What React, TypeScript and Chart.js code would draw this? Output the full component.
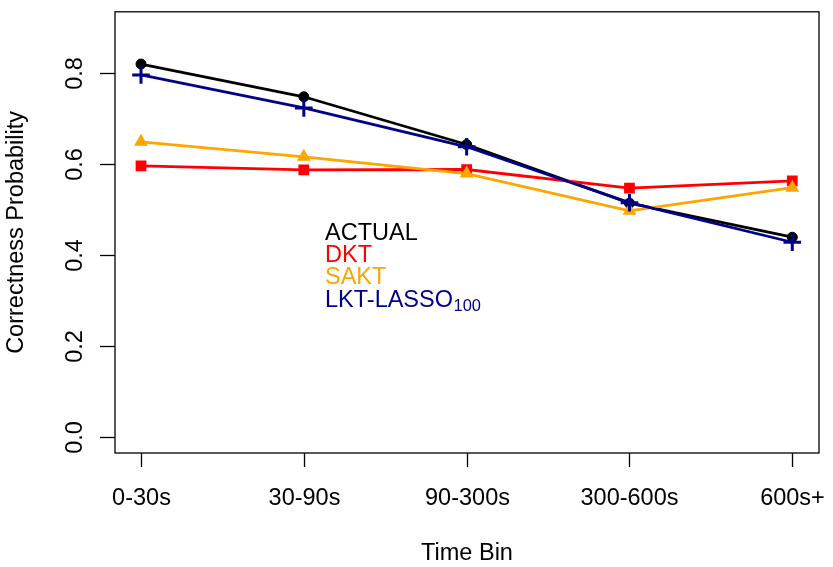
import React, { useEffect, useRef } from "react";
import { Chart, registerables } from "chart.js";

Chart.register(...registerables);

const categories = ["0-30s", "30-90s", "90-300s", "300-600s", "600s+"];
const actualValues = [0.82, 0.748, 0.643, 0.514, 0.439];
const dktValues = [0.596, 0.587, 0.588, 0.547, 0.563];
const saktValues = [0.649, 0.616, 0.579, 0.497, 0.548];
const lktValues = [0.796, 0.7235, 0.638, 0.515, 0.428];
const yTickValues = [0, 0.2, 0.4, 0.6, 0.8];
const yTickLabels = ["0.0", "0.2", "0.4", "0.6", "0.8"];
const legendNames = ["ACTUAL", "DKT", "SAKT", "LKT-LASSO"];
const legendSub = ["", "", "", "100"];
const seriesColors = ["#000000", "#FF0000", "#FFA500", "#00008B"];
const xTitle = "Time Bin";
const yTitle = "Correctness Probability";

const FONT = '"Liberation Sans", Arial, Helvetica, sans-serif';
const FS = 23.5;

const rPlotPlugin = {
  id: "rplot",
  afterDraw(chart: any) {
    const { ctx, chartArea } = chart;
    const xs = chart.scales.x;
    const ys = chart.scales.y;
    const { left, right, top, bottom } = chartArea;
    ctx.save();
    ctx.strokeStyle = "#000";
    ctx.lineWidth = 1.3;
    ctx.strokeRect(left, top, right - left, bottom - top);
    ctx.fillStyle = "#000";
    ctx.font = `${FS}px ${FONT}`;
    // x ticks
    ctx.textAlign = "center";
    ctx.textBaseline = "alphabetic";
    categories.forEach((c, i) => {
      const px = Math.round(xs.getPixelForValue(i)) + 0.5;
      ctx.beginPath();
      ctx.moveTo(px, bottom);
      ctx.lineTo(px, bottom + 14);
      ctx.stroke();
      ctx.fillText(c, px, bottom + 52);
    });
    // y ticks
    yTickValues.forEach((v, i) => {
      const py = Math.round(ys.getPixelForValue(v)) + 0.5;
      ctx.beginPath();
      ctx.moveTo(left, py);
      ctx.lineTo(left - 15, py);
      ctx.stroke();
      ctx.save();
      ctx.translate(82, py);
      ctx.rotate(-Math.PI / 2);
      ctx.textAlign = "center";
      ctx.textBaseline = "alphabetic";
      ctx.fillText(yTickLabels[i], 0, 0);
      ctx.restore();
    });
    // titles
    ctx.textAlign = "center";
    ctx.fillText(xTitle, (left + right) / 2, 560);
    ctx.save();
    ctx.translate(23, (top + bottom) / 2);
    ctx.rotate(-Math.PI / 2);
    ctx.fillText(yTitle, 0, 0);
    ctx.restore();
    // legend text
    ctx.textAlign = "left";
    legendNames.forEach((name, i) => {
      const by = 240 + i * 22.2;
      ctx.fillStyle = seriesColors[i];
      ctx.font = `${FS}px ${FONT}`;
      ctx.fillText(name, 325, by);
      if (legendSub[i]) {
        const w = ctx.measureText(name).width;
        ctx.font = `${FS * 0.7}px ${FONT}`;
        ctx.fillText(legendSub[i], 325 + w + 0.5, by + 4);
      }
    });
    ctx.restore();
  },
};

export default function App() {
  const ref = useRef<HTMLCanvasElement>(null);
  useEffect(() => {
    const toPts = (arr: number[]) => arr.map((v, i) => ({ x: i, y: v }));
    const chart = new Chart(ref.current!, {
      type: "line",
      data: {
        datasets: [
          {
            label: "ACTUAL",
            data: toPts(actualValues),
            borderColor: seriesColors[0],
            backgroundColor: seriesColors[0],
            pointStyle: "circle",
            pointRadius: 5,
            pointBorderWidth: 1,
            borderWidth: 2.8,
            order: 4,
          },
          {
            label: "DKT",
            data: toPts(dktValues),
            borderColor: seriesColors[1],
            backgroundColor: seriesColors[1],
            pointStyle: "rect",
            pointRadius: 7.6,
            pointBorderWidth: 0,
            borderWidth: 2.8,
            order: 3,
          },
          {
            label: "SAKT",
            data: toPts(saktValues),
            borderColor: seriesColors[2],
            backgroundColor: seriesColors[2],
            pointStyle: "triangle",
            pointRadius: 8,
            pointBorderWidth: 0,
            borderWidth: 2.8,
            order: 2,
          },
          {
            label: "LKT-LASSO100",
            data: toPts(lktValues),
            borderColor: seriesColors[3],
            backgroundColor: seriesColors[3],
            pointStyle: "cross",
            pointRadius: 8.8,
            pointBorderWidth: 3,
            borderWidth: 2.8,
            order: 1,
          },
        ],
      },
      options: {
        responsive: false,
        animation: false,
        events: [],
        layout: { padding: { left: 115, top: 9, right: 14, bottom: 114 } },
        plugins: { legend: { display: false }, tooltip: { enabled: false } },
        elements: { line: { tension: 0 } },
        scales: {
          x: { type: "linear", display: false, min: -0.1597, max: 4.164 },
          y: { type: "linear", display: false, min: -0.0356, max: 0.9349 },
        },
      },
      plugins: [rPlotPlugin],
    });
    return () => chart.destroy();
  }, []);
  return (
    <div style={{ position: "absolute", left: 0, top: 0, width: 833, height: 567, background: "#fff" }}>
      <canvas ref={ref} width={833} height={567} style={{ display: "block" }} />
    </div>
  );
}
